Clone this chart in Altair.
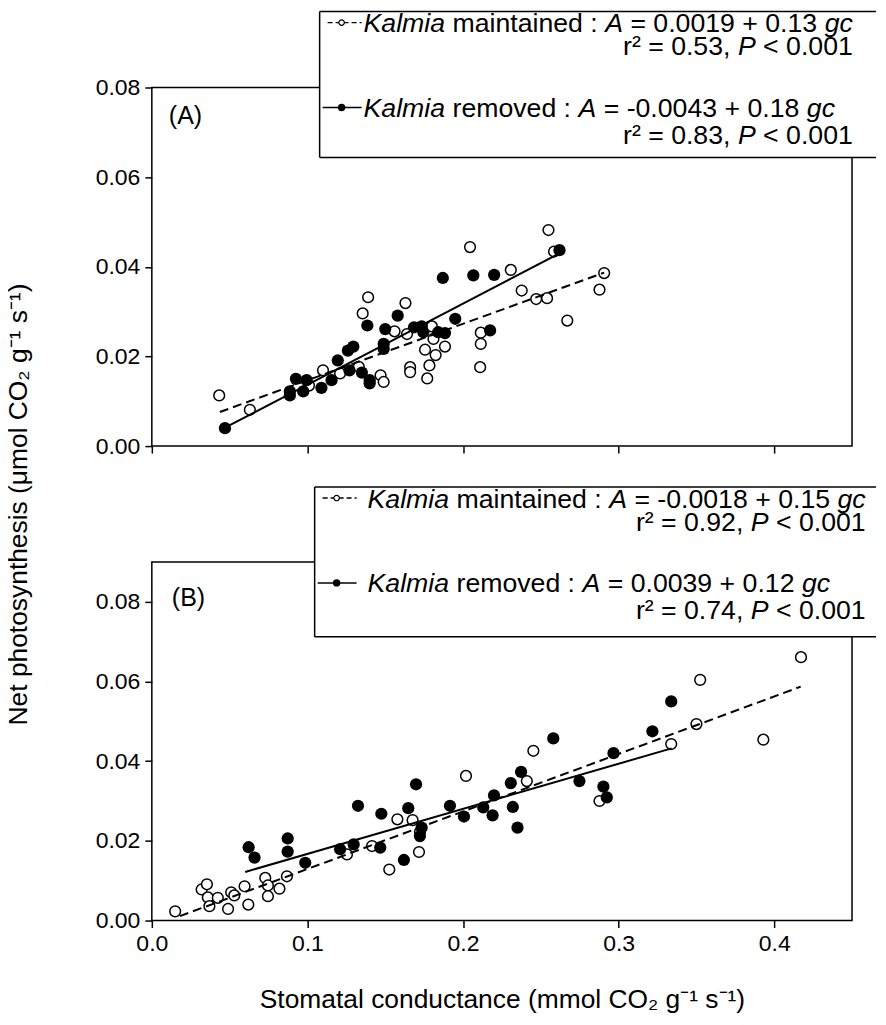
import altair as alt
import pandas as pd

# ---------------- values ----------------
# Panel A : Kalmia maintained (open) / removed (filled)
a_maint_x = [0.0433, 0.063, 0.101, 0.110, 0.121, 0.133, 0.1355, 0.139, 0.147, 0.149,
             0.156, 0.163, 0.164, 0.166, 0.166, 0.1756, 0.1784, 0.177, 0.1824, 0.1884,
             0.180, 0.181, 0.2045, 0.2114, 0.2114, 0.211, 0.2307, 0.2377, 0.247, 0.254,
             0.2549, 0.2585, 0.267, 0.2907, 0.2877]
a_maint_y = [0.0113, 0.0081, 0.0135, 0.0169, 0.0162, 0.0177, 0.0296, 0.0332, 0.0158, 0.0143,
             0.0256, 0.0319, 0.0250, 0.0176, 0.0165, 0.0215, 0.0180, 0.0151, 0.0203, 0.0222,
             0.0267, 0.0239, 0.0444, 0.0253, 0.0228, 0.0176, 0.0393, 0.0347, 0.0328, 0.0330,
             0.0482, 0.0434, 0.0280, 0.0386, 0.0349]
a_rem_x = [0.047, 0.0887, 0.0887, 0.0926, 0.0973, 0.0995, 0.109, 0.1155, 0.1195, 0.126,
           0.1295, 0.127, 0.135, 0.140, 0.140, 0.1385, 0.150, 0.149, 0.149, 0.158,
           0.1685, 0.1734, 0.1745, 0.184, 0.1884, 0.187, 0.195, 0.2066, 0.220, 0.2174, 0.262]
a_rem_y = [0.0040, 0.0113, 0.0122, 0.0150, 0.0122, 0.0147, 0.0130, 0.0147, 0.0191, 0.0213,
           0.0222, 0.0169, 0.0164, 0.0147, 0.0140, 0.0269, 0.0261, 0.0228, 0.0217, 0.0291,
           0.0265, 0.0267, 0.0254, 0.0254, 0.0252, 0.0375, 0.0284, 0.0381, 0.0382, 0.0258, 0.0437]
a_maint_fit_x = [0.0437, 0.2907]
a_maint_fit_y = [0.0076, 0.0387]
a_rem_fit_x = [0.047, 0.262]
a_rem_fit_y = [0.0041, 0.0430]

# Panel B
b_maint_x = [0.015, 0.032, 0.0354, 0.036, 0.037, 0.0424, 0.049, 0.051, 0.053, 0.0596,
             0.062, 0.0729, 0.0746, 0.0746, 0.082, 0.0868, 0.1254, 0.1415, 0.1526, 0.1578,
             0.1676, 0.1723, 0.1717, 0.2019, 0.241, 0.2452, 0.2877, 0.3338, 0.350, 0.3524,
             0.393, 0.4172]
b_maint_y = [0.0023, 0.0078, 0.0091, 0.0058, 0.0036, 0.0057, 0.0029, 0.0071, 0.0063, 0.0086,
             0.0040, 0.0107, 0.0088, 0.0061, 0.0080, 0.0111, 0.0166, 0.0187, 0.0128, 0.0254,
             0.0252, 0.0222, 0.0172, 0.0363, 0.0350, 0.0426, 0.0300, 0.0443, 0.0493, 0.0604,
             0.0454, 0.0661]
b_rem_x = [0.0622, 0.066, 0.0873, 0.0873, 0.0986, 0.121, 0.1297, 0.1325, 0.1475, 0.1468,
           0.162, 0.1648, 0.1698, 0.1734, 0.1723, 0.1916, 0.2006, 0.213, 0.219, 0.2199,
           0.2307, 0.232, 0.235, 0.2373, 0.258, 0.2748, 0.2902, 0.2924, 0.2967, 0.3217, 0.3338]
b_rem_y = [0.0184, 0.0158, 0.0206, 0.0173, 0.0145, 0.0179, 0.0191, 0.0288, 0.0268, 0.0183,
           0.0152, 0.0282, 0.0342, 0.0233, 0.0212, 0.0288, 0.0261, 0.0284, 0.0264, 0.0314,
           0.0345, 0.0285, 0.0233, 0.0373, 0.0457, 0.0350, 0.0336, 0.0309, 0.0420, 0.0475, 0.0550]
b_maint_fit_x = [0.018, 0.417]
b_maint_fit_y = [0.0011, 0.0587]
b_rem_fit_x = [0.060, 0.334]
b_rem_fit_y = [0.0122, 0.0432]

x_ticks = [0.0, 0.1, 0.2, 0.3, 0.4]
y_ticks = [0.0, 0.02, 0.04, 0.06, 0.08]

legend_a = [
    [("Kalmia", True), (" maintained : ", False), ("A", True), (" = 0.0019 + 0.13 ", False), ("gc", True)],
    [("r\u00b2 = 0.53, ", False), ("P", True), (" < 0.001", False)],
    [("Kalmia", True), (" removed : ", False), ("A", True), (" = -0.0043 + 0.18 ", False), ("gc", True)],
    [("r\u00b2 = 0.83, ", False), ("P", True), (" < 0.001", False)],
]
legend_b = [
    [("Kalmia", True), (" maintained : ", False), ("A", True), (" = -0.0018 + 0.15 ", False), ("gc", True)],
    [("r\u00b2 = 0.92, ", False), ("P", True), (" < 0.001", False)],
    [("Kalmia", True), (" removed : ", False), ("A", True), (" = 0.0039 + 0.12 ", False), ("gc", True)],
    [("r\u00b2 = 0.74, ", False), ("P", True), (" < 0.001", False)],
]

y_title = "Net photosynthesis (\u03bcmol CO\u2082 g\u207b\u00b9  s\u207b\u00b9)"
x_title = "Stomatal conductance (mmol CO\u2082 g\u207b\u00b9  s\u207b\u00b9)"

# ---------------- layout ----------------
FONT = "Liberation Sans"
FS = 26.7        # legend text
TFS = 26.4       # axis titles
PFS = 25         # panel labels
LFS = 23         # tick labels
W, H = 701, 359
XMAX = 0.45
PLOT_LEFT = 152
RIGHT_EDGE = 877

ARIAL = {' ': 278, '(': 333, ')': 333, '+': 584, ',': 278, '-': 333, '.': 278, ':': 278,
         '<': 584, '=': 584, 'A': 667, 'K': 667, 'P': 667, 'a': 556, 'c': 500, 'd': 556,
         'e': 556, 'g': 556, 'i': 222, 'l': 222, 'm': 833, 'n': 556, 'o': 556, 'r': 333,
         't': 278, 'v': 500, 's': 500, 'u': 556, '\u00b2': 333}
for _d in "0123456789":
    ARIAL[_d] = 556


def tw(s, fs=FS):
    return sum(ARIAL.get(c, 556) for c in s) / 1000.0 * fs


def px2x(px):
    return (px - PLOT_LEFT) / W * XMAX


def make_panel(mx, my, rx, ry, mfx, mfy, rfx, rfy, ymax, top, box, text_left, rows,
               label, label_pos, first):
    def py2y(py):
        return (top + H - py) / H * ymax

    xs = alt.Scale(domain=[0, XMAX], nice=False, zero=False)
    ys = alt.Scale(domain=[0, ymax], nice=False, zero=False)
    if first:
        xaxis = alt.Axis(values=x_ticks, labels=False, title=None, ticks=True)
        yaxis = alt.Axis(values=y_ticks, format=".2f", title=y_title, titleX=-133,
                         titleY=(87 + 921) / 2 - 87, titleAngle=270,
                         titleBaseline="middle", titleAlign="center")
    else:
        xaxis = alt.Axis(values=x_ticks, format=".1f", title=x_title, titleY=79,
                         titleBaseline="middle", titleAlign="center")
        yaxis = alt.Axis(values=y_ticks, format=".2f", title=None)
    X = alt.X("x:Q", scale=xs, axis=xaxis)
    Y = alt.Y("y:Q", scale=ys, axis=yaxis)

    maint = pd.DataFrame({"x": mx, "y": my})
    rem = pd.DataFrame({"x": rx, "y": ry})
    mfit = pd.DataFrame({"x": mfx, "y": mfy})
    rfit = pd.DataFrame({"x": rfx, "y": rfy})

    layers = []
    layers.append(alt.Chart(maint).mark_point(shape="circle", filled=False, fill="white",
                                              stroke="black", strokeWidth=1.5, size=115,
                                              opacity=1).encode(x=X, y=Y))
    layers.append(alt.Chart(rem).mark_point(shape="circle", filled=True, color="black",
                                            size=150, opacity=1).encode(x=X, y=Y))
    layers.append(alt.Chart(mfit).mark_line(color="black", strokeWidth=2,
                                            strokeDash=[9, 5]).encode(x=X, y=Y))
    layers.append(alt.Chart(rfit).mark_line(color="black", strokeWidth=2).encode(x=X, y=Y))

    # legend box: white fill, border on top / left / bottom (right side runs off the page)
    bl, bt, bb = box
    br = RIGHT_EDGE
    boxdf = pd.DataFrame({"x": [px2x(bl)], "x2": [px2x(br)], "y": [py2y(bt)], "y2": [py2y(bb)]})
    layers.append(alt.Chart(boxdf).mark_rect(fill="white", strokeWidth=0)
                  .encode(x=X, x2="x2:Q", y=Y, y2="y2:Q"))
    edges = pd.DataFrame({
        "x": [px2x(bl), px2x(bl), px2x(bl)],
        "x2": [px2x(br), px2x(br), px2x(bl)],
        "y": [py2y(bt), py2y(bb), py2y(bt)],
        "y2": [py2y(bt), py2y(bb), py2y(bb)],
    })
    layers.append(alt.Chart(edges).mark_rule(color="black", strokeWidth=1.5)
                  .encode(x=X, x2="x2:Q", y=Y, y2="y2:Q"))

    # legend text rows
    offs = [11, 34, 96, 123]
    right_end = text_left + tw("".join(s for s, _ in rows[0]))
    recs = []
    for i, segs in enumerate(rows):
        total = tw("".join(s for s, _ in segs))
        cur = text_left if i in (0, 2) else right_end - total
        ybase = bt + offs[i] + 0.358 * FS
        for s, it in segs:
            lead = len(s) - len(s.lstrip(" "))
            recs.append({"x": px2x(cur + tw(" " * lead)), "y": py2y(ybase),
                         "t": s.strip(), "it": it})
            cur += tw(s)
    tdf = pd.DataFrame(recs)
    for it in (True, False):
        sub = tdf[tdf["it"] == it]
        layers.append(alt.Chart(sub).mark_text(align="left", baseline="alphabetic",
                                               font=FONT, fontSize=FS,
                                               fontStyle="italic" if it else "normal",
                                               color="black")
                      .encode(x=X, y=Y, text="t:N"))

    # legend symbols
    sy1 = bt + offs[0]
    sy3 = bt + offs[2]
    d1 = pd.DataFrame({"x": [px2x(bl + 8), px2x(bl + 42)], "y": [py2y(sy1)] * 2})
    d3 = pd.DataFrame({"x": [px2x(bl + 3), px2x(bl + 42)], "y": [py2y(sy3)] * 2})
    c1 = pd.DataFrame({"x": [px2x(bl + 22)], "y": [py2y(sy1)]})
    c3 = pd.DataFrame({"x": [px2x(bl + 22)], "y": [py2y(sy3)]})
    layers.append(alt.Chart(d1).mark_line(color="black", strokeWidth=1.3,
                                          strokeDash=[5, 3]).encode(x=X, y=Y))
    layers.append(alt.Chart(d3).mark_line(color="black", strokeWidth=1.5).encode(x=X, y=Y))
    layers.append(alt.Chart(c1).mark_point(shape="circle", filled=False, fill="white",
                                           stroke="black", strokeWidth=1.2, size=30,
                                           opacity=1).encode(x=X, y=Y))
    layers.append(alt.Chart(c3).mark_point(shape="circle", filled=True, color="black",
                                           size=55, opacity=1).encode(x=X, y=Y))

    # panel label
    ldf = pd.DataFrame({"x": [px2x(label_pos[0])], "y": [py2y(label_pos[1])], "t": [label]})
    layers.append(alt.Chart(ldf).mark_text(align="left", baseline="alphabetic", font=FONT,
                                           fontSize=PFS, color="black")
                  .encode(x=X, y=Y, text="t:N"))

    return alt.layer(*layers).properties(width=W, height=H)


panel_a = make_panel(a_maint_x, a_maint_y, a_rem_x, a_rem_y,
                     a_maint_fit_x, a_maint_fit_y, a_rem_fit_x, a_rem_fit_y,
                     0.08, 87, (320, 11, 157), 364, legend_a, "(A)", (169, 124), True)
panel_b = make_panel(b_maint_x, b_maint_y, b_rem_x, b_rem_y,
                     b_maint_fit_x, b_maint_fit_y, b_rem_fit_x, b_rem_fit_y,
                     0.09, 562, (315, 487, 637), 368, legend_b, "(B)", (172, 606), False)

chart = alt.vconcat(panel_a, panel_b, spacing=116, bounds="flush").properties(
    padding={"left": -3, "top": 1, "right": 0, "bottom": 4}
).configure_view(
    stroke="black", strokeWidth=1.5
).configure_axis(
    labelFont=FONT, labelFontSize=LFS, labelColor="black", labelFlush=False,
    titleFont=FONT, titleFontSize=TFS, titleFontWeight="normal", titleColor="black",
    tickColor="black", tickWidth=1.5, tickSize=7, labelPadding=5,
    domain=False, grid=False
)

chart.save("out.html", embed_options={"renderer": "svg", "actions": False})
